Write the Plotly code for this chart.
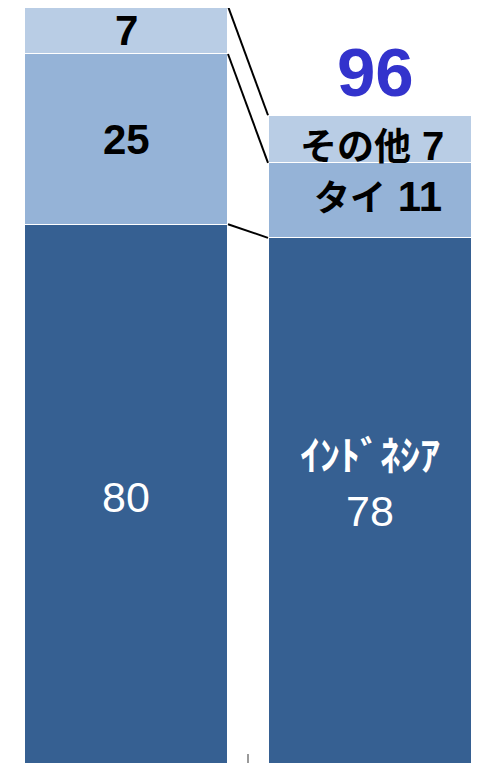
import plotly.graph_objects as go

# ---- data ----
categories = ["前", "後"]          # two stacked columns (axis labels not shown)
x_pos = [0, 1]
series_names = ["インドネシア", "タイ", "その他"]
bottom_vals = [80, 78]   # インドネシア
middle_vals = [25, 11]   # タイ
top_vals = [7, 7]        # その他
right_labels = ["ｲﾝﾄﾞﾈｼｱ", "タイ", "その他"]
right_total = 96

colors = ["#366092", "#95B3D7", "#B9CDE5"]
BAR_W = 0.836
NUM_FONT = "Liberation Sans, Arial, Noto Sans CJK JP"
JP_FONT = "Noto Sans CJK JP, Liberation Sans"

fig = go.Figure()
layers = [bottom_vals, middle_vals, top_vals]
for name, vals, col in zip(series_names, layers, colors):
    fig.add_trace(go.Bar(
        x=x_pos, y=vals, name=name, width=BAR_W,
        marker=dict(color=col, line=dict(color="white", width=1)),
        hoverinfo="skip", showlegend=False,
    ))

# cumulative boundaries
cum = []
run = [0, 0]
for vals in layers:
    run = [run[i] + vals[i] for i in range(2)]
    cum.append(list(run))

# connector lines between bars
for c in cum:
    fig.add_trace(go.Scatter(
        x=[x_pos[0] + BAR_W / 2, x_pos[1] - BAR_W / 2], y=[c[0], c[1]],
        mode="lines", line=dict(color="black", width=2),
        hoverinfo="skip", showlegend=False,
    ))

# left bar labels
mids_left = [cum[0][0] / 2, cum[0][0] + middle_vals[0] / 2, cum[1][0] + top_vals[0] / 2]
left_styles = [
    dict(color="white", size=43, family=NUM_FONT, weight="normal"),
    dict(color="black", size=42, family=NUM_FONT, weight="bold"),
    dict(color="black", size=42, family=NUM_FONT, weight="bold"),
]
for vals, m, st in zip(layers, mids_left, left_styles):
    fig.add_annotation(x=x_pos[0], y=m, text=str(vals[0]), showarrow=False,
                       font=st, xanchor="center", yanchor="middle")

# right bar labels
mids_right = [cum[0][1] / 2, cum[0][1] + middle_vals[1] / 2, cum[1][1] + top_vals[1] / 2]
fig.add_annotation(
    x=x_pos[1], y=mids_right[0],
    text=f"<span style='font-family:{JP_FONT};font-size:40px'><b>{right_labels[0]}</b></span><br>{bottom_vals[1]}",
    showarrow=False, font=dict(color="white", size=43, family=NUM_FONT),
    xanchor="center", yanchor="middle", yshift=24,
)
fig.add_annotation(
    x=x_pos[1], y=mids_right[1],
    text=f"<span style='font-family:{JP_FONT};font-size:36px'>{right_labels[1]}</span> {middle_vals[1]}",
    showarrow=False, font=dict(color="black", size=42, family=NUM_FONT, weight="bold"),
    xanchor="center", yanchor="middle", xshift=8, yshift=5,
)
fig.add_annotation(
    x=x_pos[1], y=mids_right[2],
    text=f"<span style='font-family:{JP_FONT};font-size:37px'>{right_labels[2]}</span> {top_vals[1]}",
    showarrow=False, font=dict(color="black", size=40, family=NUM_FONT, weight="bold"),
    xanchor="center", yanchor="middle", xshift=2, yshift=-5,
)
# total
fig.add_annotation(
    x=x_pos[1], y=cum[2][1], text=str(right_total), showarrow=False,
    font=dict(color="#3333CC", size=69, family=NUM_FONT, weight="bold"),
    xanchor="center", yanchor="bottom", yshift=2, xshift=5,
)

# page body has an 8px margin, so the figure is sized to fill the rest of the window
fig.update_layout(
    width=479, height=755, barmode="stack",
    margin=dict(l=0, r=0, t=0, b=0),
    paper_bgcolor="white", plot_bgcolor="white",
    showlegend=False,
    xaxis=dict(range=[-0.4836, 1.4795], showgrid=False, zeroline=False,
               showticklabels=False, showline=False,
               tickmode="array", tickvals=[-0.5, 0.5, 1.5],
               ticks="inside", ticklen=9, tickwidth=2, tickcolor="#9a9a9a"),
    yaxis=dict(range=[0.88, 111.75], showgrid=False, zeroline=False,
               showticklabels=False, showline=False, ticks=""),
)

fig.write_html("out.html")
